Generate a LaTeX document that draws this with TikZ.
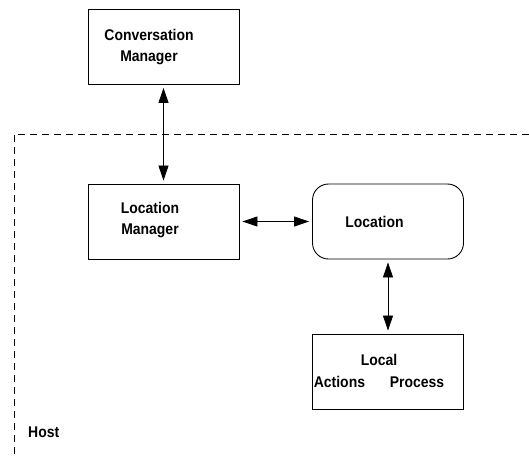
\documentclass[tikz,border=0pt]{standalone}
\usepackage{fontspec}
\setmainfont{Liberation Sans}[FakeStretch=0.9]
\usetikzlibrary{arrows.meta}

\tikzset{
  box/.style = {draw, line width=0.9pt, minimum width=151pt, minimum height=75pt, inner sep=0pt},
  roundbox/.style = {box, rounded corners=16pt},
  boxtext/.style = {font=\fontsize{15.5}{21.5}\selectfont\bfseries, align=center, inner sep=0pt},
  link/.style = {line width=0.8pt, shorten <=3pt, shorten >=3pt,
    {Triangle[length=15pt,width=10pt]}-{Triangle[length=15pt,width=10pt]}},
}

\begin{document}
\begin{tikzpicture}[x=1pt, y=-1pt]
\useasboundingbox (0,0) rectangle (529,458);

%% the host border
\draw[dash pattern=on 7pt off 5pt, line width=0.8pt] (529,134) -- (14,134) -- (14,458);
\node[boxtext, anchor=base west] (host) at (28,437) {Host};

%% the boxes
\node[box] (conv) at (163.5,47) {};
\node[boxtext] (convtext) at (149,47) {Conversation\\Manager};

\node[box] (locman) at (163.5,221.5) {};
\node[boxtext] (locmantext) at (150,220) {Location\\Manager};

\node[roundbox] (loc) at (388,221.5) {};
\node[boxtext] (loctext) at (374.5,222) {Location};

\node[box] (local) at (388,371.5) {};
\node[boxtext] (localtext) at (379,371) {Local\\Actions\hspace{1.6em}Process};

%% the links
\draw[link] (conv.south) -- (locman.north);
\draw[link] (locman.east) -- (loc.west);
\draw[link] (loc.south) -- (local.north);

\end{tikzpicture}
\end{document}
